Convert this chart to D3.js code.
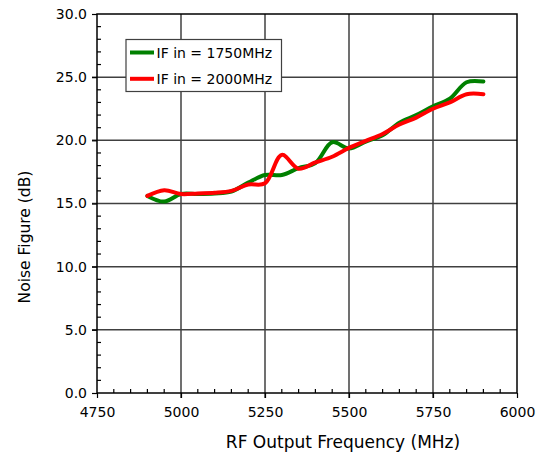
<!DOCTYPE html>
<html><head><meta charset="utf-8">
<script src="https://cdn.jsdelivr.net/npm/d3@7"></script>
<style>body{margin:0;background:#fff}svg{display:block}</style>
</head><body>
<svg id="c" width="548" height="457"></svg>
<script>
const freqs = [4900,4950,5000,5050,5100,5150,5200,5250,5300,5350,5400,5450,5500,5550,5600,5650,5700,5750,5800,5850,5900];
const nf1750 = [15.6,15.15,15.75,15.75,15.8,15.95,16.65,17.25,17.25,17.8,18.2,19.85,19.35,19.9,20.4,21.4,22.0,22.7,23.3,24.6,24.65];
const nf2000 = [15.6,16.05,15.75,15.8,15.85,16.0,16.5,16.6,18.85,17.75,18.25,18.7,19.4,19.95,20.5,21.25,21.8,22.5,23.0,23.65,23.65];
const seriesNames = ["IF in = 1750MHz","IF in = 2000MHz"];
const xTicks = [4750,5000,5250,5500,5750,6000];
const yTicks = [0,5,10,15,20,25,30];

const svg = d3.select("#c");
const L=97, R=517, T=14, B=393;
const x = d3.scaleLinear().domain([4750,6000]).range([L,R]);
const y = d3.scaleLinear().domain([0,30]).range([B,T]);
const font = "DejaVu Sans, sans-serif";
const grid = "#404040";

// gridlines
svg.append("g").selectAll("line").data(xTicks.slice(1,-1)).join("line")
  .attr("x1",d=>x(d)).attr("x2",d=>x(d)).attr("y1",T).attr("y2",B+5)
  .attr("stroke",grid).attr("stroke-width",1.5);
svg.append("g").selectAll("line").data(yTicks.slice(1,-1)).join("line")
  .attr("y1",d=>y(d)).attr("y2",d=>y(d)).attr("x1",L-5).attr("x2",R)
  .attr("stroke",grid).attr("stroke-width",1.5);

// minor ticks inside
const xMinor = d3.range(4750,6000,50).filter(v=>v%250!==0);
svg.append("g").selectAll("line").data(xMinor).join("line")
  .attr("x1",d=>x(d)).attr("x2",d=>x(d)).attr("y1",B).attr("y2",B-4)
  .attr("stroke","#000").attr("stroke-width",1.2);
const yMinor = d3.range(0,30,1).filter(v=>v%5!==0);
svg.append("g").selectAll("line").data(yMinor).join("line")
  .attr("y1",d=>y(d)).attr("y2",d=>y(d)).attr("x1",L).attr("x2",L+4)
  .attr("stroke","#000").attr("stroke-width",1.2);

// axes
const xAxis = d3.axisBottom(x).tickValues(xTicks).tickSize(5).tickPadding(9).tickFormat(d3.format("d"));
const gx = svg.append("g").attr("transform",`translate(0,${B})`).call(xAxis);
const yAxis = d3.axisLeft(y).tickValues(yTicks).tickSize(5).tickPadding(5).tickFormat(d3.format(".1f"));
const gy = svg.append("g").attr("transform",`translate(${L},0)`).call(yAxis);
[gx,gy].forEach(g=>{
  g.select(".domain").remove();
  g.selectAll(".tick line").attr("stroke","#000").attr("stroke-width",1.2);
  g.selectAll("text").attr("font-family",font).attr("font-size",14).attr("fill","#000");
});
// frame
svg.append("rect").attr("x",L).attr("y",T).attr("width",R-L).attr("height",B-T)
  .attr("fill","none").attr("stroke","#000").attr("stroke-width",1.5);

// lines
const line = d3.line().x(d=>x(d[0])).y(d=>y(d[1])).curve(d3.curveCatmullRom.alpha(0.5));
const colors = ["#008000","#ff0000"];
[nf1750,nf2000].forEach((s,i)=>{
  svg.append("path").datum(freqs.map((f,j)=>[f,s[j]]))
    .attr("d",line).attr("fill","none").attr("stroke",colors[i])
    .attr("stroke-width",4).attr("stroke-linejoin","round").attr("stroke-linecap","round");
});

// legend
const lg = svg.append("g");
lg.append("rect").attr("x",126).attr("y",39.5).attr("width",155.5).attr("height",52)
  .attr("fill","#fff").attr("stroke","#404040").attr("stroke-width",1.2);
seriesNames.forEach((n,i)=>{
  const yy = 52.5 + i*26.3;
  lg.append("line").attr("x1",130).attr("x2",154).attr("y1",yy).attr("y2",yy)
    .attr("stroke",colors[i]).attr("stroke-width",4);
  lg.append("text").attr("x",156.5).attr("y",yy+5).text(n)
    .attr("font-family",font).attr("font-size",14).attr("fill","#000");
});

// titles
svg.append("text").attr("x",343).attr("y",448).attr("text-anchor","middle")
  .attr("font-family",font).attr("font-size",17).text("RF Output Frequency (MHz)");
svg.append("text").attr("transform","translate(30,237) rotate(-90)").attr("text-anchor","middle")
  .attr("font-family",font).attr("font-size",15.5).text("Noise Figure (dB)");
</script>
</body></html>
